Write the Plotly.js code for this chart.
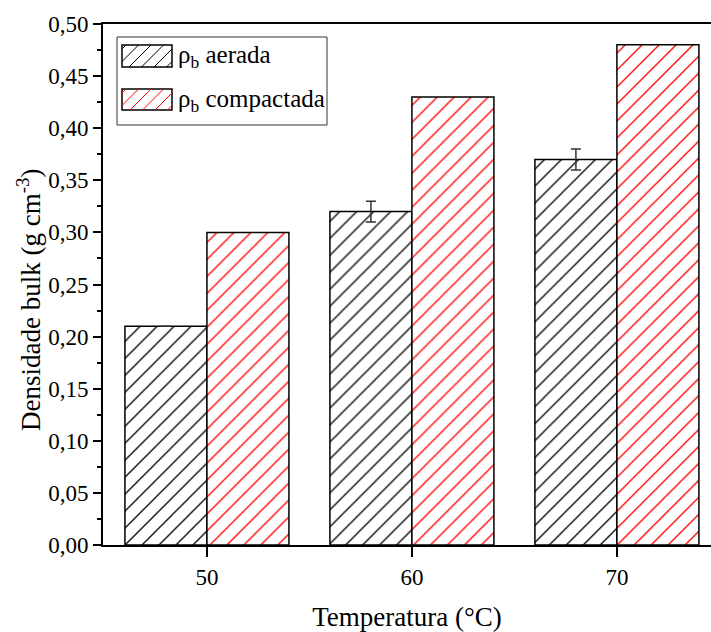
<!DOCTYPE html>
<html>
<head>
<meta charset="utf-8">
<script src="https://cdn.plot.ly/plotly-3.0.1.min.js"></script>
<style>html,body{margin:0;padding:0;background:#fff;}#chart{width:711px;height:632px;}</style>
</head>
<body>
<div id="chart"></div>
<script>
// ---- data ----
const temperatures = [50, 60, 70];
const aeradaValues = [0.21, 0.32, 0.37];
const aeradaErrors = [0, 0.01, 0.01];
const compactadaValues = [0.30, 0.43, 0.48];
const seriesNames = ['ρ<sub>b</sub> aerada', 'ρ<sub>b</sub> compactada'];
const xTickLabels = ['50', '60', '70'];
const yTitle = 'Densidade bulk (g cm<sup>-3</sup>)';
const xTitle = 'Temperatura (°C)';

const FONT = 'Liberation Serif, serif';

function hatchedBar(y, color, name, err) {
  const t = {
    type: 'bar', x: temperatures, y: y, name: name, showlegend: false,
    marker: {
      color: 'white',
      line: {color: 'black', width: 1.5},
      pattern: {shape: '/', fgcolor: color, bgcolor: 'white', size: 12, solidity: 0.11, fillmode: 'replace'}
    }
  };
  if (err) t.error_y = {type: 'data', array: err, visible: true, color: '#333', thickness: 1.5, width: 5};
  return t;
}

const traces = [
  hatchedBar(aeradaValues, 'black', seriesNames[0], aeradaErrors),
  hatchedBar(compactadaValues, '#ff0000', seriesNames[1], null)
];

// ---- manual legend (decoration) ----
const L = 103, R = 711, T = 24, B = 545;
const px = v => (v - L) / (R - L);
const py = v => (B - v) / (B - T);
const shapes = [];
const annotations = [];
shapes.push({type: 'rect', xref: 'paper', yref: 'paper', x0: px(117), x1: px(327), y0: py(125), y1: py(37),
  line: {color: '#333', width: 1}, fillcolor: 'white', layer: 'above'});
function swatch(top, bottom, color, label) {
  const left = 122, right = 172, h = bottom - top;
  shapes.push({type: 'rect', xref: 'paper', yref: 'paper', x0: px(left), x1: px(right), y0: py(bottom), y1: py(top),
    line: {color: 'black', width: 1.5}, fillcolor: 'white', layer: 'above'});
  let d = '';
  for (let s = left - h + 4; s < right; s += 12.5) {
    let x0 = s, y0 = bottom, x1 = s + h, y1 = top;
    if (x0 < left) { y0 = bottom - (left - x0); x0 = left; }
    if (x1 > right) { y1 = top + (x1 - right); x1 = right; }
    if (x1 - x0 < 1) continue;
    d += 'M' + px(x0) + ',' + py(y0) + 'L' + px(x1) + ',' + py(y1);
  }
  shapes.push({type: 'path', xref: 'paper', yref: 'paper', path: d, line: {color: color, width: 1}, layer: 'above'});
  annotations.push({xref: 'paper', yref: 'paper', x: px(176), y: py((top + bottom) / 2 + 1), xanchor: 'left', yanchor: 'middle',
    text: label, showarrow: false, font: {family: FONT, size: 25, color: 'black'}});
}
swatch(45, 67, 'black', seriesNames[0]);
swatch(89, 110, '#ff0000', seriesNames[1]);

// y-axis title placed as rotated annotation
annotations.push({xref: 'paper', yref: 'paper', x: px(29), y: py(300), xanchor: 'center', yanchor: 'middle',
  text: yTitle, textangle: -90, showarrow: false, font: {family: FONT, size: 27, color: 'black'}});

const layout = {
  width: 711, height: 632,
  margin: {l: L, r: 711 - R, t: T, b: 632 - B},
  paper_bgcolor: 'white', plot_bgcolor: 'white',
  separators: ',.',
  barmode: 'group', bargap: 0.2, bargroupgap: 0,
  font: {family: FONT, size: 23, color: 'black'},
  showlegend: false,
  xaxis: {
    range: [44.93, 74.59], tickvals: temperatures, ticktext: xTickLabels,
    ticks: 'outside', ticklen: 10, tickwidth: 1.5, tickcolor: 'black',
    showline: true, linecolor: 'black', linewidth: 2, mirror: true,
    showgrid: false, zeroline: false,
    tickfont: {family: FONT, size: 23},
    title: {text: xTitle, font: {family: FONT, size: 27}, standoff: 24}
  },
  yaxis: {
    range: [0, 0.5], dtick: 0.05, tick0: 0, tickformat: '.2f',
    ticks: 'outside', ticklen: 8, tickwidth: 2, tickcolor: 'black',
    minor: {dtick: 0.025, ticks: 'outside', ticklen: 4, tickwidth: 2, tickcolor: 'black', showgrid: false},
    showline: true, linecolor: 'black', linewidth: 2,
    showgrid: false, zeroline: false,
    tickfont: {family: FONT, size: 23}
  },
  shapes: shapes,
  annotations: annotations
};

Plotly.newPlot('chart', traces, layout, {displayModeBar: false, staticPlot: true});
</script>
</body>
</html>
